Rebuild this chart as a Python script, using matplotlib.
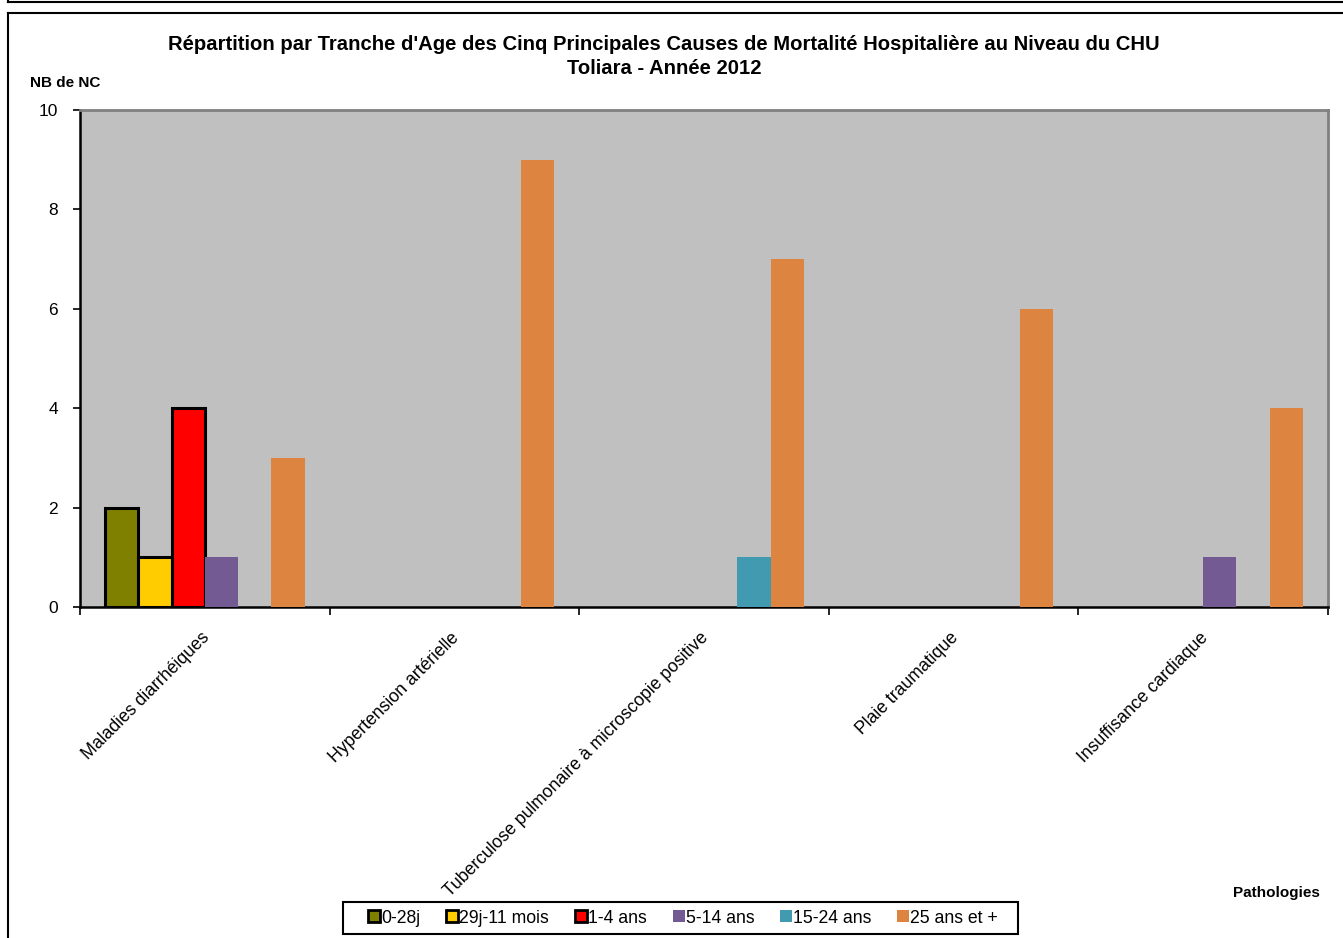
import matplotlib
matplotlib.use('Agg')
import matplotlib.pyplot as plt
import numpy as np
from matplotlib.lines import Line2D
from matplotlib.patches import Rectangle

plt.rcParams['font.family'] = ['Liberation Sans', 'DejaVu Sans']

# donnees
pathologies = ['Maladies diarrhéiques', 'Hypertension artérielle',
               'Tuberculose pulmonaire à microscopie positive',
               'Plaie traumatique', 'Insuffisance cardiaque']
tranches = ['0-28j', '29j-11 mois', '1-4 ans', '5-14 ans', '15-24 ans', '25 ans et +']
v_0_28j = [2, 0, 0, 0, 0]
v_29j_11m = [1, 0, 0, 0, 0]
v_1_4 = [4, 0, 0, 0, 0]
v_5_14 = [1, 0, 0, 0, 1]
v_15_24 = [0, 0, 1, 0, 0]
v_25_plus = [3, 9, 7, 6, 4]
series = [v_0_28j, v_29j_11m, v_1_4, v_5_14, v_15_24, v_25_plus]

couleurs = ['#808000', '#FFCC00', '#FF0000', '#745A93', '#419AB0', '#DC8440']
bordure = [True, True, True, False, False, False]

fig = plt.figure(figsize=(13.43, 9.38), dpi=100)
ax = fig.add_axes([80/1343, 1-607/938, 1248/1343, 497/938])
ax.set_facecolor('#C0C0C0')

x = np.arange(len(pathologies))
w = 1/7.5  # gap 150%
for i, (vals, c, b) in enumerate(zip(series, couleurs, bordure)):
    pos = x - 0.5 + w*0.75 + w*i + w/2
    v = np.array(vals, dtype=float)
    m = v > 0
    if b:
        ax.bar(pos[m], v[m], width=w, color=c, edgecolor='black', linewidth=2.2, zorder=3)
    else:
        ax.bar(pos[m], v[m], width=w, color=c, linewidth=0, zorder=3)

ax.set_xlim(-0.5, len(pathologies) - 0.5)
ax.set_ylim(0, 10)
ax.set_yticks([0, 2, 4, 6, 8, 10])
ax.tick_params(axis='y', direction='out', length=5, width=1.2, labelsize=12.5, pad=11)
ax.set_xticks(np.arange(len(pathologies) + 1) - 0.5)
ax.set_xticklabels([])
ax.tick_params(axis='x', direction='out', length=6, width=1.2)
for i, nom in enumerate(pathologies):
    ax.text(i - 0.015, -0.45, nom, rotation=45, ha='right', va='top',
            rotation_mode='anchor', fontsize=12.7)

for s in ['top', 'right']:
    ax.spines[s].set_color('#808080')
    ax.spines[s].set_linewidth(2)
for s in ['left', 'bottom']:
    ax.spines[s].set_color('black')
    ax.spines[s].set_linewidth(1.8)

fig.text(664/1343, 1-45/938, "Répartition par Tranche d'Age des Cinq Principales Causes de Mortalité Hospitalière au Niveau du CHU",
         ha='center', va='center', fontsize=14.6, fontweight='bold')
fig.text(664/1343, 1-68/938, "Toliara - Année 2012",
         ha='center', va='center', fontsize=14.6, fontweight='bold')
fig.text(30/1343, 1-83/938, "NB de NC", ha='left', va='center', fontsize=11, fontweight='bold')
fig.text(1320/1343, 1-893/938, "Pathologies", ha='right', va='center', fontsize=11, fontweight='bold')

handles = []
for t, c, b in zip(tranches, couleurs, bordure):
    handles.append(Line2D([0], [0], marker='s', linestyle='none', markersize=8,
                          markerfacecolor=c, markeredgecolor='black' if b else c,
                          markeredgewidth=2 if b else 0, label=t))
leg = fig.legend(handles=handles, loc='center', bbox_to_anchor=(684/1343, 1-918/938),
                 ncol=6, frameon=False, fontsize=12.7, handlelength=0.5, handletextpad=0.15,
                 columnspacing=1.55, borderpad=0.3, borderaxespad=0)
fig.add_artist(Rectangle((343/1343, 1-934/938), 675/1343, 32/938, transform=fig.transFigure,
                         fill=False, edgecolor='black', linewidth=1.5))

# cadres
fig.add_artist(Line2D([8/1343, 1], [1-13/938, 1-13/938], color='black', lw=1.5))
fig.add_artist(Line2D([8/1343, 8/1343], [0, 1-13/938], color='black', lw=1.5))
fig.add_artist(Line2D([8/1343, 1], [1-2/938, 1-2/938], color='black', lw=1.5))
fig.add_artist(Line2D([8/1343, 8/1343], [1-2/938, 1], color='black', lw=1.5))

fig.savefig('out.png', dpi=100)
